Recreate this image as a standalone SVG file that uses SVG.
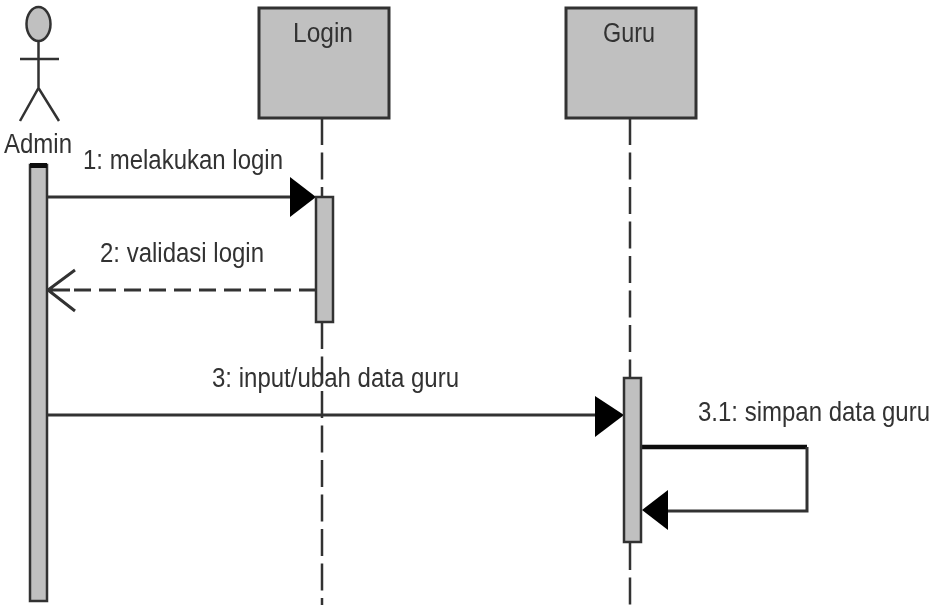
<svg xmlns="http://www.w3.org/2000/svg" width="935" height="605" viewBox="0 0 935 605">
<style>
.box{fill:#c0c0c0;stroke:#333;stroke-width:3}
.act{fill:#c0c0c0;stroke:#333;stroke-width:2.5}
.life{stroke:#333;stroke-width:2.5;stroke-dasharray:27 7.500;fill:none}
.msg{stroke:#333;stroke-width:3;fill:none}
.head{fill:#000;stroke:none}
.t{font-family:"Liberation Sans",Arial,sans-serif;font-size:27px;fill:#333}
.stick{stroke:#333;stroke-width:2.5;fill:none}
</style>
<defs><filter id="soft" filterUnits="userSpaceOnUse" x="0" y="0" width="935" height="605"><feGaussianBlur stdDeviation="0.7"/></filter></defs>
<rect width="935" height="605" fill="#fff"/>
<g filter="url(#soft)">
<g id="connectors">
<path class="life" d="M322 118V197"/>
<path class="life" d="M322 322V605"/>
<path class="life" d="M630 118V378"/>
<path class="life" d="M630 543V605"/>
<path class="msg" d="M48 197H292"/>
<polygon class="head" points="290,177 316,197 290,217"/>
<path class="msg" d="M316 290H70" stroke-dasharray="17 8"/>
<path class="msg" stroke-width="2.5" d="M75 270L48 290L75 311M48 290H70"/>
<path class="msg" d="M48 415H598"/>
<polygon class="head" points="595,396 624,415 595,437"/>
<path d="M642 447H807" stroke="#111" stroke-width="4.5" fill="none"/>
<path class="msg" d="M807 447V511H668"/>
<polygon class="head" points="668,490 642,510 668,530"/>
</g>
<g id="admin">
<ellipse cx="38.500" cy="24" rx="12" ry="17" fill="#c0c0c0" stroke="#333" stroke-width="2.500"/>
<path class="stick" d="M38.500 41V88M20 59H59M20 121L38.500 88L59 121"/>
<text class="t" x="38" y="153" text-anchor="middle" textLength="68" lengthAdjust="spacingAndGlyphs">Admin</text>
<rect class="act" x="30" y="165" width="17" height="436"/>
<rect x="30" y="163" width="17" height="5" fill="#111"/>
</g>
<g id="login">
<rect class="box" x="259" y="8" width="130" height="110"/>
<text class="t" x="323" y="42" text-anchor="middle" textLength="60" lengthAdjust="spacingAndGlyphs">Login</text>
<rect class="act" x="316" y="197" width="17" height="125"/>
</g>
<g id="guru">
<rect class="box" x="566" y="8" width="130" height="110"/>
<text class="t" x="629" y="42" text-anchor="middle" textLength="52" lengthAdjust="spacingAndGlyphs">Guru</text>
<rect class="act" x="624" y="378" width="17" height="164"/>
</g>
<g id="labels">
<text class="t" x="83" y="169" textLength="200" lengthAdjust="spacingAndGlyphs">1: melakukan login</text>
<text class="t" x="100" y="262" textLength="164" lengthAdjust="spacingAndGlyphs">2: validasi login</text>
<text class="t" x="212" y="387" textLength="247" lengthAdjust="spacingAndGlyphs">3: input/ubah data guru</text>
<text class="t" style="font-size:24px" transform="translate(698 421) scale(1 1.125)">3.1: simpan data guru</text>
</g>
</g>
</svg>
